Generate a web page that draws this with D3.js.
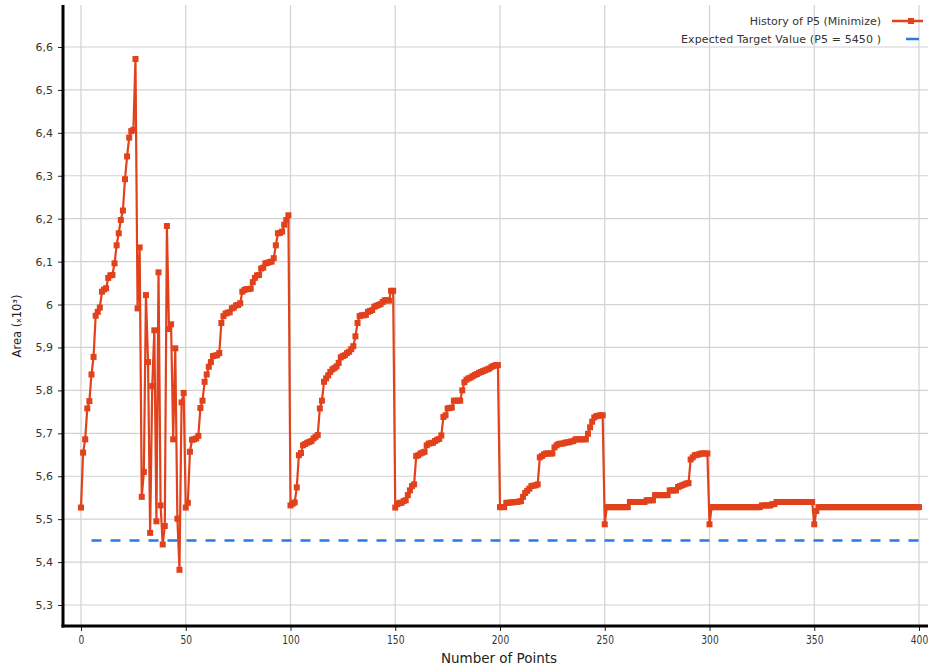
<!DOCTYPE html>
<html>
<head>
<meta charset="utf-8">
<script src="https://cdn.jsdelivr.net/npm/d3@7"></script>
<style>
  html, body { margin: 0; padding: 0; background: #fff; }
  svg { display: block; }
</style>
</head>
<body>
<svg id="chart" width="928" height="667"></svg>
<script>
// Axis ticks
const xTicks = [0, 50, 100, 150, 200, 250, 300, 350, 400];
const yTicks = [5300, 5400, 5500, 5600, 5700, 5800, 5900, 6000, 6100, 6200, 6300, 6400, 6500, 6600];

// History of P5 (area), one run of 50 evaluations per array
const run1 = [5527, 5655, 5686, 5758, 5775, 5837, 5878, 5974, 5983, 5993,
              6030, 6035, 6038, 6062, 6068, 6069, 6096, 6138, 6166, 6197,
              6219, 6292, 6345, 6389, 6404, 6407, 6572, 5991, 6133, 5552,
              5610, 6022, 5866, 5468, 5810, 5940, 5495, 6075, 5532, 5441,
              5484, 6183, 5943, 5954, 5686, 5898, 5501, 5382, 5772, 5794];
const run2 = [5527, 5538, 5657, 5685, 5686, 5688, 5694, 5759, 5776, 5820,
              5837, 5855, 5866, 5880, 5881, 5882, 5887, 5957, 5973, 5979,
              5981, 5982, 5991, 5993, 5998, 5999, 6003, 6030, 6034, 6036,
              6036, 6037, 6052, 6062, 6068, 6069, 6084, 6086, 6096, 6097,
              6099, 6100, 6108, 6138, 6166, 6167, 6170, 6186, 6197, 6208];
const run3 = [5532, 5536, 5539, 5574, 5649, 5654, 5672, 5675, 5678, 5680,
              5682, 5688, 5692, 5696, 5758, 5776, 5820, 5828, 5835, 5843,
              5849, 5852, 5856, 5864, 5877, 5880, 5882, 5887, 5890, 5896,
              5903, 5926, 5957, 5973, 5975, 5975, 5976, 5983, 5985, 5987,
              5995, 5997, 5999, 6001, 6006, 6010, 6010, 6009, 6032, 6032];
const run4 = [5527, 5535, 5538, 5538, 5542, 5544, 5556, 5567, 5577, 5581,
              5647, 5649, 5653, 5655, 5657, 5672, 5676, 5677, 5678, 5682,
              5685, 5687, 5695, 5738, 5742, 5758, 5759, 5760, 5776, 5776,
              5776, 5776, 5800, 5819, 5825, 5828, 5830, 5833, 5836, 5838,
              5841, 5843, 5845, 5847, 5849, 5851, 5855, 5857, 5859, 5859];
const run5 = [5528, 5528, 5528, 5538, 5538, 5539, 5539, 5540, 5540, 5541,
              5542, 5552, 5561, 5566, 5571, 5577, 5578, 5579, 5581, 5644,
              5647, 5651, 5653, 5653, 5653, 5653, 5667, 5672, 5675, 5676,
              5676, 5678, 5679, 5679, 5681, 5682, 5686, 5686, 5686, 5686,
              5686, 5686, 5699, 5714, 5727, 5737, 5740, 5741, 5742, 5742];
const run6 = [5488, 5528, 5528, 5528, 5528, 5528, 5528, 5528, 5528, 5528,
              5528, 5528, 5540, 5540, 5540, 5540, 5540, 5540, 5540, 5540,
              5544, 5544, 5544, 5544, 5556, 5556, 5556, 5556, 5556, 5556,
              5556, 5567, 5567, 5567, 5567, 5575, 5577, 5579, 5581, 5583,
              5584, 5639, 5644, 5649, 5650, 5651, 5653, 5653, 5653, 5653];
const run7 = [5488, 5528, 5528, 5528, 5528, 5528, 5528, 5528, 5528, 5528,
              5528, 5528, 5528, 5528, 5528, 5528, 5528, 5528, 5528, 5528,
              5528, 5528, 5528, 5528, 5528, 5532, 5532, 5532, 5532, 5532,
              5535, 5535, 5540, 5540, 5540, 5540, 5540, 5540, 5540, 5540,
              5540, 5540, 5540, 5540, 5540, 5540, 5540, 5540, 5540, 5540];
const run8 = [5488, 5519, 5528, 5528, 5528, 5528, 5528, 5528, 5528, 5528,
              5528, 5528, 5528, 5528, 5528, 5528, 5528, 5528, 5528, 5528,
              5528, 5528, 5528, 5528, 5528, 5528, 5528, 5528, 5528, 5528,
              5528, 5528, 5528, 5528, 5528, 5528, 5528, 5528, 5528, 5528,
              5528, 5528, 5528, 5528, 5528, 5528, 5528, 5528, 5528, 5528,
              5528];

const targetValue = 5450;
const seriesLabel = "History of P5 (Minimize)";
const targetLabel = "Expected Target Value (P5 = 5450 )";

const areaHistory = [].concat(run1, run2, run3, run4, run5, run6, run7, run8);
const points = areaHistory.map((v, i) => ({ n: i, v: v }));

const RED = "#e1411b";
const BLUE = "#2a78e4";
const GRID = "#d2d2d2";
const NARROW = "'DejaVu Sans Condensed', 'Liberation Sans Narrow', 'DejaVu Sans', sans-serif";

const frame = { left: 63, top: 5, right: 928, bottom: 626 };

const x = d3.scaleLinear().domain([0, 400]).range([81, 919]);
const y = d3.scaleLinear().domain([5300, 6600]).range([605, 47]);

const svg = d3.select("#chart");

// grid
const grid = svg.append("g").attr("class", "grid");
grid.selectAll("line.v").data(xTicks).join("line")
  .attr("class", "v")
  .attr("x1", d => x(d)).attr("x2", d => x(d))
  .attr("y1", frame.top).attr("y2", frame.bottom)
  .attr("stroke", GRID).attr("stroke-width", 1.2);
grid.selectAll("line.h").data(yTicks).join("line")
  .attr("class", "h")
  .attr("x1", frame.left).attr("x2", frame.right)
  .attr("y1", d => y(d)).attr("y2", d => y(d))
  .attr("stroke", GRID).attr("stroke-width", 1.2);

// axes
const fmtY = d => String(+(d / 1000).toFixed(1)).replace(".", ",");

const yAxis = svg.append("g")
  .attr("transform", `translate(${frame.left},0)`)
  .call(d3.axisLeft(y).tickValues(yTicks).tickFormat(fmtY).tickSize(5).tickPadding(5));
yAxis.select(".domain").remove();
yAxis.selectAll(".tick line").attr("stroke", "#222").attr("stroke-width", 1);
yAxis.selectAll(".tick text")
  .attr("fill", "#333")
  .style("font-family", "'DejaVu Sans', sans-serif")
  .style("font-size", "11px");

const xAxis = svg.append("g")
  .attr("transform", `translate(0,${frame.bottom})`)
  .call(d3.axisBottom(x).tickValues(xTicks).tickFormat(d3.format("d")).tickSize(5).tickPadding(4));
xAxis.select(".domain").remove();
xAxis.selectAll(".tick line").attr("stroke", "#222").attr("stroke-width", 1);
xAxis.selectAll(".tick text")
  .attr("fill", "#333")
  .attr("transform", "scale(0.78,1)")
  .style("font-family", NARROW)
  .style("font-size", "13px");

// frame axis lines
svg.append("line")
  .attr("x1", frame.left).attr("x2", frame.left)
  .attr("y1", frame.top).attr("y2", frame.bottom + 1.5)
  .attr("stroke", "#000").attr("stroke-width", 3);
svg.append("line")
  .attr("x1", frame.left - 1.5).attr("x2", frame.right)
  .attr("y1", frame.bottom).attr("y2", frame.bottom)
  .attr("stroke", "#000").attr("stroke-width", 3);

// axis titles
svg.append("text")
  .attr("x", 499).attr("y", 663)
  .attr("text-anchor", "middle")
  .attr("fill", "#222")
  .attr("textLength", 116)
  .attr("lengthAdjust", "spacingAndGlyphs")
  .style("font-family", NARROW)
  .style("font-size", "14px")
  .text("Number of Points");

const yTitle = svg.append("text")
  .attr("transform", "translate(21,326) rotate(-90)")
  .attr("text-anchor", "middle")
  .attr("fill", "#222")
  .style("font-family", "'DejaVu Sans', sans-serif")
  .style("font-size", "11.5px");
yTitle.append("tspan").text("Area  (");
yTitle.append("tspan").style("font-size", "7.5px").text("x");
yTitle.append("tspan").text("10³)");

// target line
svg.append("line")
  .attr("x1", x(0) + 10.5).attr("x2", x(400))
  .attr("y1", y(targetValue)).attr("y2", y(targetValue))
  .attr("stroke", BLUE).attr("stroke-width", 2.5)
  .attr("stroke-dasharray", "10,9");

// history line and markers
const line = d3.line().x(d => x(d.n)).y(d => y(d.v));
svg.append("path")
  .datum(points)
  .attr("d", line)
  .attr("fill", "none")
  .attr("stroke", RED)
  .attr("stroke-width", 2.2)
  .attr("stroke-linejoin", "round");

const M = 6;
svg.append("g").selectAll("rect").data(points).join("rect")
  .attr("x", d => x(d.n) - M / 2)
  .attr("y", d => y(d.v) - M / 2)
  .attr("width", M).attr("height", M)
  .attr("fill", RED);

// legend
const legend = svg.append("g")
  .style("font-family", "'DejaVu Sans', sans-serif")
  .style("font-size", "11px");
legend.append("text")
  .attr("x", 881).attr("y", 21).attr("dy", "0.35em")
  .attr("text-anchor", "end").attr("fill", "#333")
  .text(seriesLabel);
legend.append("line")
  .attr("x1", 892).attr("x2", 923).attr("y1", 21).attr("y2", 21)
  .attr("stroke", RED).attr("stroke-width", 2.5);
legend.append("rect")
  .attr("x", 911 - M / 2).attr("y", 21 - M / 2).attr("width", M).attr("height", M)
  .attr("fill", RED);
legend.append("text")
  .attr("x", 881).attr("y", 39).attr("dy", "0.35em")
  .attr("text-anchor", "end").attr("fill", "#333")
  .attr("textLength", 200)
  .attr("lengthAdjust", "spacing")
  .text(targetLabel);
legend.append("line")
  .attr("x1", 906).attr("x2", 919).attr("y1", 39).attr("y2", 39)
  .attr("stroke", BLUE).attr("stroke-width", 2.5);
</script>
</body>
</html>
